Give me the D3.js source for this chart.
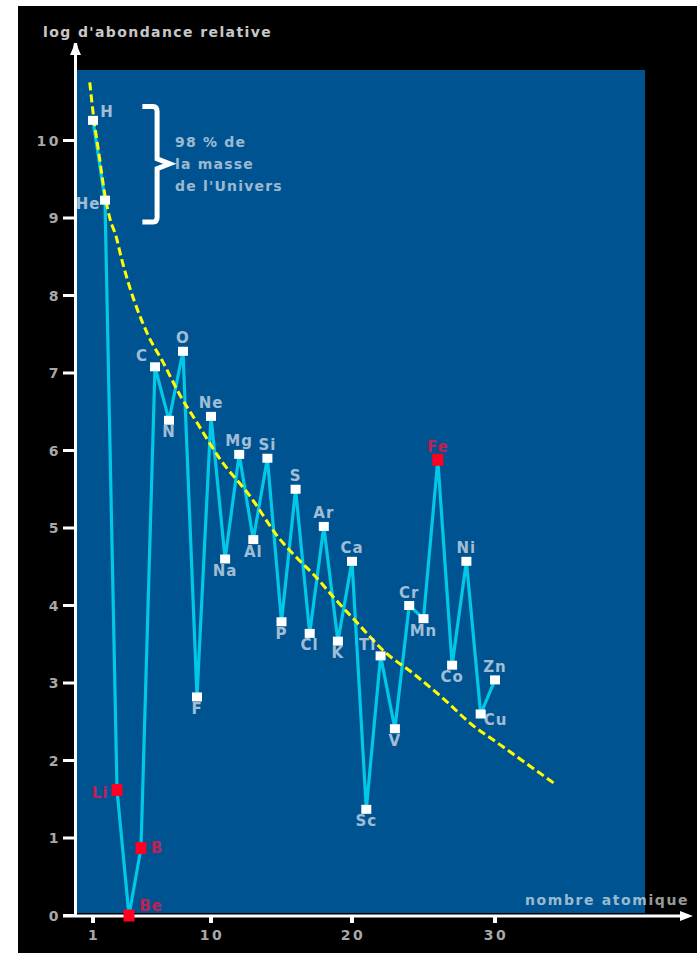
<!DOCTYPE html>
<html>
<head>
<meta charset="utf-8">
<script src="https://cdn.jsdelivr.net/npm/d3@7"></script>
<style>
  html, body { margin: 0; padding: 0; background: #ffffff; }
  svg { display: block; }
  text { font-family: "DejaVu Sans", "Liberation Sans", sans-serif; font-weight: bold; }
</style>
</head>
<body>
<svg id="chart" width="697" height="953"></svg>
<script>
// Elements H to Zn: atomic number and log of relative abundance
const symbols = ["H","He","Li","Be","B","C","N","O","F","Ne","Na","Mg","Al","Si","P","S","Cl","Ar","K","Ca","Sc","Ti","V","Cr","Mn","Fe","Co","Ni","Cu","Zn"];
const atomicNumbers = [1,2,3,4,5,6,7,8,9,10,11,12,13,14,15,16,17,18,19,20,21,22,23,24,25,26,27,28,29,30];
const logAbundance = [10.26, 9.23, 1.62, 0.0, 0.87, 7.08, 6.39, 7.28, 2.82, 6.44,
                      4.60, 5.95, 4.85, 5.90, 3.79, 5.50, 3.64, 5.02, 3.54, 4.57,
                      1.37, 3.35, 2.41, 4.00, 3.83, 5.88, 3.23, 4.57, 2.60, 3.04];
// Elements shown in red
const highlighted = ["Li","Be","B","Fe"];

// General trend (dashed yellow curve)
const trendZ   = [0.73, 1.0, 1.53, 1.99, 2.45, 2.91, 3.37, 5.5, 6.57, 7.86, 8.93, 10.64, 12.77, 14.82, 16.17, 17.38, 18.72, 20.35, 22.3, 24.3, 26.5, 28.4, 30.0, 34.1];
const trendLog = [10.75, 10.37, 9.79, 9.30, 8.97, 8.77, 8.48, 7.49, 7.14, 6.69, 6.38, 5.89, 5.41, 4.87, 4.60, 4.38, 4.10, 3.78, 3.40, 3.12, 2.78, 2.46, 2.25, 1.71];

// Axis ticks
const yTicks = [0,1,2,3,4,5,6,7,8,9,10];
const xTicks = [1,10,20,30];

// Texts
const yTitle = "log d'abondance relative";
const xTitle = "nombre atomique";
const braceText = ["98 % de", "la masse", "de l'Univers"];

// Label placement around each marker
const labelSide = {
  H:"upright", He:"left", Li:"left", Be:"upright2", B:"right", C:"upleft", N:"below", O:"above",
  F:"below", Ne:"above", Na:"below", Mg:"above", Al:"below", Si:"above", P:"below", S:"above",
  Cl:"below", Ar:"above", K:"below", Ca:"above", Sc:"below", Ti:"upleft", V:"below", Cr:"above",
  Mn:"below", Fe:"above", Co:"below", Ni:"above", Cu:"downright", Zn:"above"
};
const offsets = {
  upright:   [14, -3.5],
  upright2:  [22, -4.5],
  right:     [16, 4.5],
  left:      [-17, 8.5],
  above:     [0, -8],
  below:     [0, 17],
  upleft:    [-13, -6],
  downright: [15, 10.5]
};

const W = 697, H = 953;
const svg = d3.select("#chart");

// frame
svg.append("rect").attr("x", 0).attr("y", 0).attr("width", W).attr("height", H).attr("fill", "#ffffff");
svg.append("rect").attr("x", 18).attr("y", 6).attr("width", W - 18).attr("height", H - 6).attr("fill", "#000000");

// scales (piecewise linear along the atomic-number axis)
const x = d3.scaleLinear().domain([1, 5, 10, 20, 30]).range([93, 141, 211, 352, 495]);
const y = d3.scaleLinear().domain([0, 10]).range([915.5, 140.5]);

// plot area
const plot = { left: 77, right: 645, top: 70, bottom: 913 };
svg.append("rect")
  .attr("x", plot.left).attr("y", plot.top)
  .attr("width", plot.right - plot.left).attr("height", plot.bottom - plot.top)
  .attr("fill", "#005391");

// axes
const axisColor = "#ffffff";
const gAxes = svg.append("g");
gAxes.append("line").attr("x1", 75.5).attr("x2", 75.5).attr("y1", 917).attr("y2", 50)
  .attr("stroke", axisColor).attr("stroke-width", 3);
gAxes.append("path").attr("d", "M70,55 L81,55 L78,48 L77,43 L74,43 L73,48 Z").attr("fill", axisColor);
gAxes.append("line").attr("x1", 63).attr("x2", 688).attr("y1", 916).attr("y2", 916)
  .attr("stroke", axisColor).attr("stroke-width", 3);
gAxes.append("path").attr("d", "M680,911 L693,916 L680,921 Z").attr("fill", axisColor);

// y ticks
const yt = gAxes.append("g").selectAll("g").data(yTicks).join("g")
  .attr("transform", d => `translate(0,${y(d)})`);
yt.append("line").attr("x1", 63).attr("x2", 75).attr("y1", 0).attr("y2", 0)
  .attr("stroke", axisColor).attr("stroke-width", 3);
yt.append("text").attr("x", 61).attr("y", 5).attr("text-anchor", "end")
  .attr("font-size", 14).attr("letter-spacing", 2.5).attr("fill", "#a8a8a8")
  .text(d => d);

// x ticks
const xt = gAxes.append("g").selectAll("g").data(xTicks).join("g")
  .attr("transform", d => `translate(${x(d)},0)`);
xt.append("line").attr("x1", 0).attr("x2", 0).attr("y1", 917).attr("y2", 923)
  .attr("stroke", axisColor).attr("stroke-width", 4);
xt.append("text").attr("x", 1).attr("y", 940).attr("text-anchor", "middle")
  .attr("font-size", 14).attr("letter-spacing", 2.5).attr("fill", "#a8a8a8")
  .text(d => d);

// axis titles
svg.append("text").attr("x", 43).attr("y", 37)
  .attr("font-size", 14).attr("letter-spacing", 1.4).attr("fill", "#ffffff").attr("fill-opacity", 0.8)
  .text(yTitle);
svg.append("text").attr("x", 525).attr("y", 905)
  .attr("font-size", 14).attr("letter-spacing", 1.6).attr("fill", "#ffffff").attr("fill-opacity", 0.62)
  .text(xTitle);

// abundance line
const elements = symbols.map((s, i) => ({ s, z: atomicNumbers[i], v: logAbundance[i], red: highlighted.includes(s) }));
svg.append("path")
  .datum(elements)
  .attr("d", d3.line().x(d => x(d.z)).y(d => y(d.v)))
  .attr("fill", "none").attr("stroke", "#00c8e6").attr("stroke-width", 3.2)
  .attr("stroke-linejoin", "round");

// trend curve
const trend = trendZ.map((z, i) => [z, trendLog[i]]);
svg.append("path")
  .datum(trend)
  .attr("d", d3.line().x(d => x(d[0])).y(d => y(d[1])).curve(d3.curveMonotoneX))
  .attr("fill", "none").attr("stroke", "#ffff00").attr("stroke-width", 3)
  .attr("stroke-dasharray", "8 4");

// markers
svg.append("g").selectAll("rect").data(elements).join("rect")
  .attr("x", d => x(d.z) - (d.red ? 5.5 : 5))
  .attr("y", d => y(d.v) - (d.red ? 6 : 4.5))
  .attr("width", d => d.red ? 11 : 10)
  .attr("height", d => d.red ? 12 : 9)
  .attr("fill", d => d.red ? "#ff0022" : "#ffffff");

// labels
svg.append("g").selectAll("text").data(elements).join("text")
  .attr("x", d => x(d.z) + offsets[labelSide[d.s]][0])
  .attr("y", d => y(d.v) + offsets[labelSide[d.s]][1])
  .attr("text-anchor", "middle")
  .attr("font-size", 15).attr("letter-spacing", 1)
  .attr("fill", d => d.red ? "#ff0f40" : "#ffffff")
  .attr("fill-opacity", d => d.red ? 0.75 : 0.64)
  .text(d => d.s);

// brace marking H and He
const braceTop = 10.44, braceBottom = 8.95, braceMid = 9.7;
const bx0 = x(5.1), bx1 = x(6.15), bTip = x(7.05);
const yt0 = y(braceTop), yb0 = y(braceBottom), ym = y(braceMid);
const bp = d3.path();
bp.moveTo(bx0, yt0);
bp.lineTo(bx1 - 4, yt0);
bp.quadraticCurveTo(bx1, yt0, bx1, yt0 + 5);
bp.lineTo(bx1, ym - 5);
bp.lineTo(bTip, ym);
bp.lineTo(bx1, ym + 5);
bp.lineTo(bx1, yb0 - 5);
bp.quadraticCurveTo(bx1, yb0, bx1 - 4, yb0);
bp.lineTo(bx0, yb0);
svg.append("path").attr("d", bp.toString())
  .attr("fill", "none").attr("stroke", "#ffffff").attr("stroke-width", 5);

svg.append("g").selectAll("text").data(braceText).join("text")
  .attr("x", 175)
  .attr("y", (d, i) => y(braceMid) - 17 + i * 22)
  .attr("font-size", 14).attr("letter-spacing", 1.2)
  .attr("fill", "#ffffff").attr("fill-opacity", 0.62)
  .text(d => d);
</script>
</body>
</html>
